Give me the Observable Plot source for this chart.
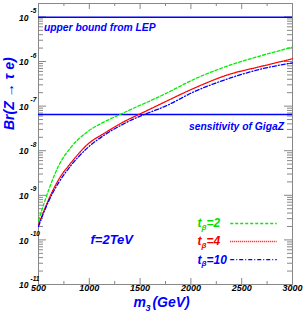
<!DOCTYPE html>
<html><head><meta charset="utf-8">
<script src="https://cdn.jsdelivr.net/npm/d3@7"></script>
<script src="https://cdn.jsdelivr.net/npm/@observablehq/plot@0.6"></script>
<style>body{margin:0;background:#fff} svg{display:block}</style>
</head><body><div id="chart"></div>
<script>
// ---- data ----
const m3 = [500, 560, 600, 700, 820, 990, 1150, 1320, 1480, 1550, 1750, 2030, 2360, 2690, 3000];
const brTb2  = [2.72e-10, 7.2e-10, 1.32e-9, 4.68e-9, 1.2e-8, 2.75e-8, 4.47e-8, 6.76e-8, 1.0e-7, 1.17e-7, 1.9e-7, 3.98e-7, 7.94e-7, 1.35e-6, 2.09e-6];
const brTb4  = [2.21e-10, 4.9e-10, 8.1e-10, 2.29e-9, 5.37e-9, 1.43e-8, 2.48e-8, 4.22e-8, 6.38e-8, 7.59e-8, 1.26e-7, 2.51e-7, 5.01e-7, 7.76e-7, 1.15e-6];
const brTb10 = [2.0e-10, 4.57e-10, 7.41e-10, 1.95e-9, 4.68e-9, 1.2e-8, 2.26e-8, 3.8e-8, 5.69e-8, 6.61e-8, 1.0e-7, 2.09e-7, 4.07e-7, 6.76e-7, 9.33e-7];
const tbLabels = ["=2", "=4", "=10"];
const lepBound = 9.8e-6;
const gigaZ = 6.5e-8;
const xTicks = [500, 1000, 1500, 2000, 2500, 3000];
const xTickLabels = ["500", "1000", "1500", "2000", "2500", "3000"];
const xMinor = [750, 1250, 1750, 2250, 2750];
const yTicks = [1e-11, 1e-10, 1e-9, 1e-8, 1e-7, 1e-6, 1e-5];
const yExpLabels = ["-11", "-10", "-9", "-8", "-7", "-6", "-5"];

// ---- annotation anchors (data coordinates) ----
const legendX = 2066, legendLineX1 = 2392, legendLineX2 = 2850;
const legendY = [2.33e-10, 9.2e-11, 3.6e-11];

const yMinor = [];
for (let e = -11; e <= -5; e++) for (let k = 2; k <= 9; k++) { const v = k * Math.pow(10, e); if (v <= 2e-5) yMinor.push(v); }

const font = {fontFamily: "'Liberation Sans', Arial, sans-serif", fontWeight: "bold", fontStyle: "italic"};
const blue = "#0000ff", axisGray = "#888";
const series = [
  {values: brTb2,  color: "#00ee00", text: "#00dd00", dash: "3,2"},
  {values: brTb4,  color: "#ff0000", text: "#ee0000", dash: "1,1"},
  {values: brTb10, color: "#0000ff", text: "#0000ff", dash: "4,2,1,2"}
];

const marks = [
  Plot.frame({stroke: axisGray}),
  // ticks (inside the frame, all four sides)
  Plot.tickX(xTicks, {x: d => d, stroke: axisGray, insetTop: 275}),
  Plot.tickX(xTicks, {x: d => d, stroke: axisGray, insetBottom: 275}),
  Plot.tickX(xMinor, {x: d => d, stroke: axisGray, insetTop: 278}),
  Plot.tickX(xMinor, {x: d => d, stroke: axisGray, insetBottom: 278}),
  Plot.tickY(yTicks, {y: d => d, stroke: axisGray, insetRight: 246}),
  Plot.tickY(yTicks, {y: d => d, stroke: axisGray, insetLeft: 246}),
  Plot.tickY(yMinor, {y: d => d, stroke: axisGray, insetRight: 249}),
  Plot.tickY(yMinor, {y: d => d, stroke: axisGray, insetLeft: 249}),
  // tick labels
  Plot.text(xTicks, {x: d => d, text: (d, i) => xTickLabels[i], frameAnchor: "bottom", dy: 6.5, fontSize: 9, fill: "black", ...font}),
  Plot.text(yTicks, {y: d => d, text: () => "10", frameAnchor: "left", textAnchor: "end", dx: -10, dy: 1, fontSize: 8.5, fill: "black", ...font}),
  Plot.text(yTicks, {y: d => d, text: (d, i) => yExpLabels[i], frameAnchor: "left", textAnchor: "start", dx: -8, dy: -6, fontSize: 6.5, fill: "black", ...font}),
  // axis titles
  Plot.text(["Br(Z \u2192 \u03c4 e)"], {text: d => d, frameAnchor: "left", dx: -29, dy: -14, rotate: -90, fontSize: 14, fill: blue, ...font}),
  Plot.text(["m"], {x: 1434, text: d => d, frameAnchor: "bottom", textAnchor: "start", dy: 22, fontSize: 14, fill: blue, ...font}),
  Plot.text(["3"], {x: 1434, text: d => d, frameAnchor: "bottom", textAnchor: "start", dx: 12, dy: 26, fontSize: 9, fill: blue, ...font}),
  Plot.text(["(GeV)"], {x: 1434, text: d => d, frameAnchor: "bottom", textAnchor: "start", dx: 19, dy: 22, fontSize: 14, fill: blue, ...font}),
  // reference lines
  Plot.ruleY([lepBound], {stroke: blue, strokeWidth: 1.5}),
  Plot.ruleY([gigaZ], {stroke: blue, strokeWidth: 1.5}),
  Plot.text(["upper bound from LEP"], {x: 554, y: 5.8e-6, text: d => d, textAnchor: "start", fontSize: 10.3, fill: blue, ...font}),
  Plot.text(["sensitivity of GigaZ"], {x: 2916, y: 3.5e-8, text: d => d, textAnchor: "end", fontSize: 10.3, fill: blue, ...font}),
  Plot.text(["f=2TeV"], {x: 1221, y: 1.0e-10, text: d => d, fontSize: 13, fill: blue, ...font})
];

series.forEach((s, i) => {
  marks.push(Plot.line(m3, {x: m3, y: s.values, stroke: s.color, strokeWidth: 1.3, strokeDasharray: s.dash, curve: "monotone-x"}));
  marks.push(Plot.ruleY([legendY[i]], {y: d => d, x1: legendLineX1, x2: legendLineX2, stroke: s.color, strokeWidth: 1.3, strokeDasharray: s.dash}));
  marks.push(Plot.text(["t"], {x: legendX, y: legendY[i], text: d => d, textAnchor: "start", fontSize: 12, fill: s.text, ...font}));
  marks.push(Plot.text(["\u03b2"], {x: legendX, y: legendY[i], text: d => d, textAnchor: "start", dx: 4, dy: 4, fontSize: 8, fill: s.text, ...font}));
  marks.push(Plot.text([tbLabels[i]], {x: legendX, y: legendY[i], text: d => d, textAnchor: "start", dx: 9, fontSize: 12, fill: s.text, ...font}));
});

const chart = Plot.plot({
  width: 303, height: 313,
  marginLeft: 38, marginRight: 11, marginTop: 3, marginBottom: 29,
  x: {domain: [500, 3000], axis: null},
  y: {type: "log", domain: [1e-11, 2e-5], axis: null},
  style: {background: "white"},
  marks
});
document.getElementById("chart").appendChild(chart);
</script>
</body></html>
